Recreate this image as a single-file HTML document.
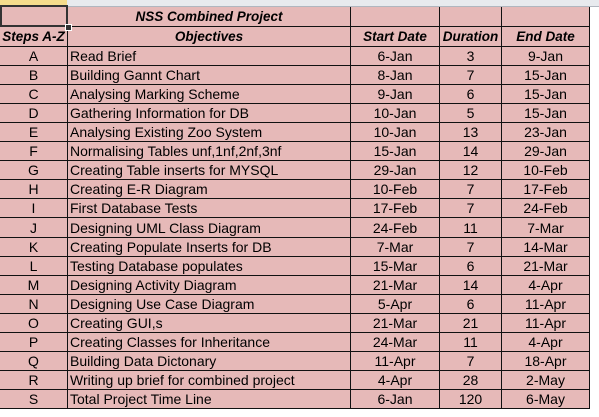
<!DOCTYPE html>
<html><head><meta charset="utf-8"><style>
body{margin:0;width:599px;height:417px;overflow:hidden;background:#fff;font-family:"Liberation Sans",sans-serif;font-size:14px;position:relative}
.c{position:absolute;box-sizing:border-box;background:#e6b9b8;border-right:1px solid #111;border-bottom:1px solid #111;display:flex;align-items:center;justify-content:center;white-space:nowrap;color:#000;overflow:hidden}
.l{justify-content:flex-start;padding-left:2px}
.h{font-weight:bold;font-style:italic;font-size:13.5px}
</style></head><body>
<div style="position:absolute;left:0;top:0;width:599px;height:6px;background:#e8eaee;border-bottom:1px solid #b0b6bf"></div>
<div style="position:absolute;left:0;top:0;width:67px;height:6px;background:#f5dc8c;border-bottom:1px solid #b0b6bf"></div>
<div id="t"></div>
<script>
const cols=[0,68,351,440,502,590];
const rows=[
["A","Read Brief","6-Jan","3","9-Jan"],
["B","Building Gannt Chart","8-Jan","7","15-Jan"],
["C","Analysing Marking Scheme","9-Jan","6","15-Jan"],
["D","Gathering Information for DB","10-Jan","5","15-Jan"],
["E","Analysing Existing Zoo System","10-Jan","13","23-Jan"],
["F","Normalising Tables unf,1nf,2nf,3nf","15-Jan","14","29-Jan"],
["G","Creating Table inserts for MYSQL","29-Jan","12","10-Feb"],
["H","Creating E-R Diagram","10-Feb","7","17-Feb"],
["I","First Database Tests","17-Feb","7","24-Feb"],
["J","Designing UML Class Diagram","24-Feb","11","7-Mar"],
["K","Creating Populate Inserts for DB","7-Mar","7","14-Mar"],
["L","Testing Database populates","15-Mar","6","21-Mar"],
["M","Designing Activity Diagram","21-Mar","14","4-Apr"],
["N","Designing Use Case Diagram","5-Apr","6","11-Apr"],
["O","Creating GUI,s","21-Mar","21","11-Apr"],
["P","Creating Classes for Inheritance","24-Mar","11","4-Apr"],
["Q","Building Data Dictonary","11-Apr","7","18-Apr"],
["R","Writing up brief for combined project","4-Apr","28","2-May"],
["S","Total Project Time Line","6-Jan","120","6-May"]];
function cell(x0,x1,y0,y1,txt,cls,name){
 const d=document.createElement('div');
 d.className='c '+cls;
 d.style.left=x0+'px';d.style.width=(x1-x0)+'px';d.style.top=y0+'px';d.style.height=(y1-y0)+'px';
 d.textContent=txt;
 
 
 document.body.appendChild(d);
}
cell(cols[0],cols[1],7,27,'','', 'selected-cell');
cell(cols[1],cols[2],7,27,'NSS Combined Project','h','table-title');
for(let i=2;i<5;i++)cell(cols[i],cols[i+1],7,27,'','', 'empty-title-cell');
const hd=['Steps A-Z','Objectives','Start Date','Duration','End Date'];
hd.forEach((h,i)=>cell(cols[i],cols[i+1],27,47,h,'h','header-'+i));
const rh=19.05;
rows.forEach((r,j)=>{const y0=47+j*rh,y1=47+(j+1)*rh;
 r.forEach((v,i)=>cell(cols[i],cols[i+1],Math.round(y0),Math.round(y1),v,i==1?'l':'','row-'+r[0]+'-col-'+i));});
</script>
<div style="position:absolute;left:0;top:5px;width:68px;height:22px;box-sizing:border-box;border:2px solid #333"></div>
<div style="position:absolute;left:65px;top:24px;width:5px;height:5px;background:#333;border:1px solid #fff"></div>
</body></html>
